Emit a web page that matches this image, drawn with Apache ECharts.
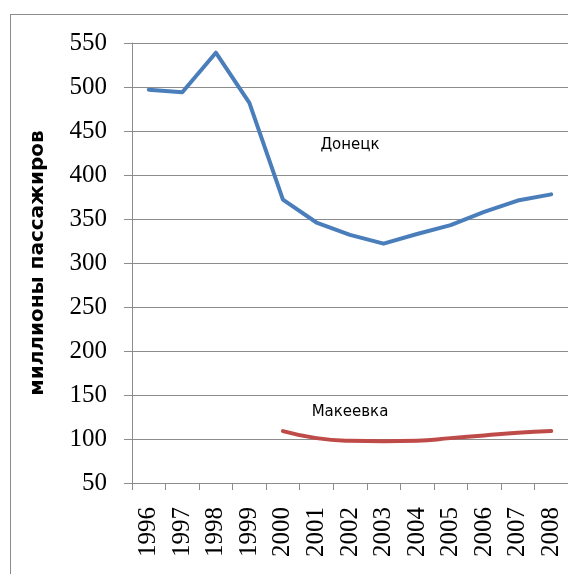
<!DOCTYPE html>
<html>
<head>
<meta charset="utf-8">
<script src="https://cdn.jsdelivr.net/npm/echarts@6/dist/echarts.min.js"></script>
<style>
	html, body { margin: 0; padding: 0; background: #fff; overflow: hidden; }
	#wrap { position: relative; width: 568px; height: 574px; overflow: hidden; }
	#frame { position: absolute; left: 10px; top: 14px; width: 620px; height: 620px; border: 1px solid #8c8c8c; }
	#chart { position: absolute; left: 0; top: 0; width: 568px; height: 574px; }
</style>
</head>
<body>
<div id="wrap">
	<div id="frame"></div>
	<div id="chart"></div>
</div>
<script>
var years = ['1996', '1997', '1998', '1999', '2000', '2001', '2002', '2003', '2004', '2005', '2006', '2007', '2008'];
var donetsk = [497, 494, 539, 482, 372, 346, 332, 322, 333, 343, 358, 371, 378];
var makeevka = [null, null, null, null, 109, 101, 98, 97.5, 98, 101, 104, 107, 109];
var yTicks = { min: 50, max: 550, interval: 50 };

// подписи рядов (категория, значение)
var donetskLabel = ['2002', 434];
var makeevkaLabel = ['2002', 130];

var chart = echarts.init(document.getElementById('chart'), null, { renderer: 'canvas' });

var gridColor = '#8c8c8c';

var options =
{
	animation: false,
	backgroundColor: 'transparent',
	grid: { left: 132, right: -7, top: 43, bottom: 91, containLabel: false },
	xAxis: {
		type: 'category',
		data: years,
		boundaryGap: true,
		axisLine: { show: true, lineStyle: { color: gridColor, width: 1 } },
		axisTick: { show: true, interval: 0, length: 7, alignWithLabel: false, lineStyle: { color: gridColor } },
		axisLabel: {
			interval: 0,
			rotate: 90,
			margin: 24,
			color: '#000',
			fontFamily: 'Liberation Serif',
			fontSize: 25
		},
		splitLine: { show: false }
	},
	yAxis: {
		type: 'value',
		min: yTicks.min,
		max: yTicks.max,
		interval: yTicks.interval,
		name: 'миллионы пассажиров',
		nameLocation: 'middle',
		nameGap: 84,
		nameRotate: 90,
		nameTextStyle: {
			color: '#000',
			fontFamily: 'DejaVu Sans',
			fontWeight: 'bold',
			fontSize: 20
		},
		axisLine: { show: true, lineStyle: { color: gridColor, width: 1 } },
		axisTick: { show: true, length: 8, lineStyle: { color: gridColor } },
		axisLabel: {
			margin: 25,
			color: '#000',
			fontFamily: 'Liberation Serif',
			fontSize: 25
		},
		splitLine: { show: true, lineStyle: { color: gridColor, width: 1 } }
	},
	series: [
		{
			name: 'Донецк',
			type: 'line',
			data: donetsk,
			symbol: 'none',
			lineStyle: { color: '#4a7ebb', width: 4, join: 'round', cap: 'round' },
			itemStyle: { color: '#4a7ebb' },
			markPoint: {
				symbol: 'circle',
				symbolSize: 0,
				label: { show: true, position: 'inside', formatter: 'Донецк', color: '#000', fontFamily: 'DejaVu Sans', fontSize: 15 },
				data: [ { coord: donetskLabel } ]
			}
		},
		{
			name: 'Макеевка',
			type: 'line',
			data: makeevka,
			smooth: true,
			symbol: 'none',
			lineStyle: { color: '#be4b48', width: 4, cap: 'round' },
			itemStyle: { color: '#be4b48' },
			markPoint: {
				symbol: 'circle',
				symbolSize: 0,
				label: { show: true, position: 'inside', formatter: 'Макеевка', color: '#000', fontFamily: 'DejaVu Sans', fontSize: 15 },
				data: [ { coord: makeevkaLabel } ]
			}
		}
	]
};

chart.setOption(options);
</script>
</body>
</html>
